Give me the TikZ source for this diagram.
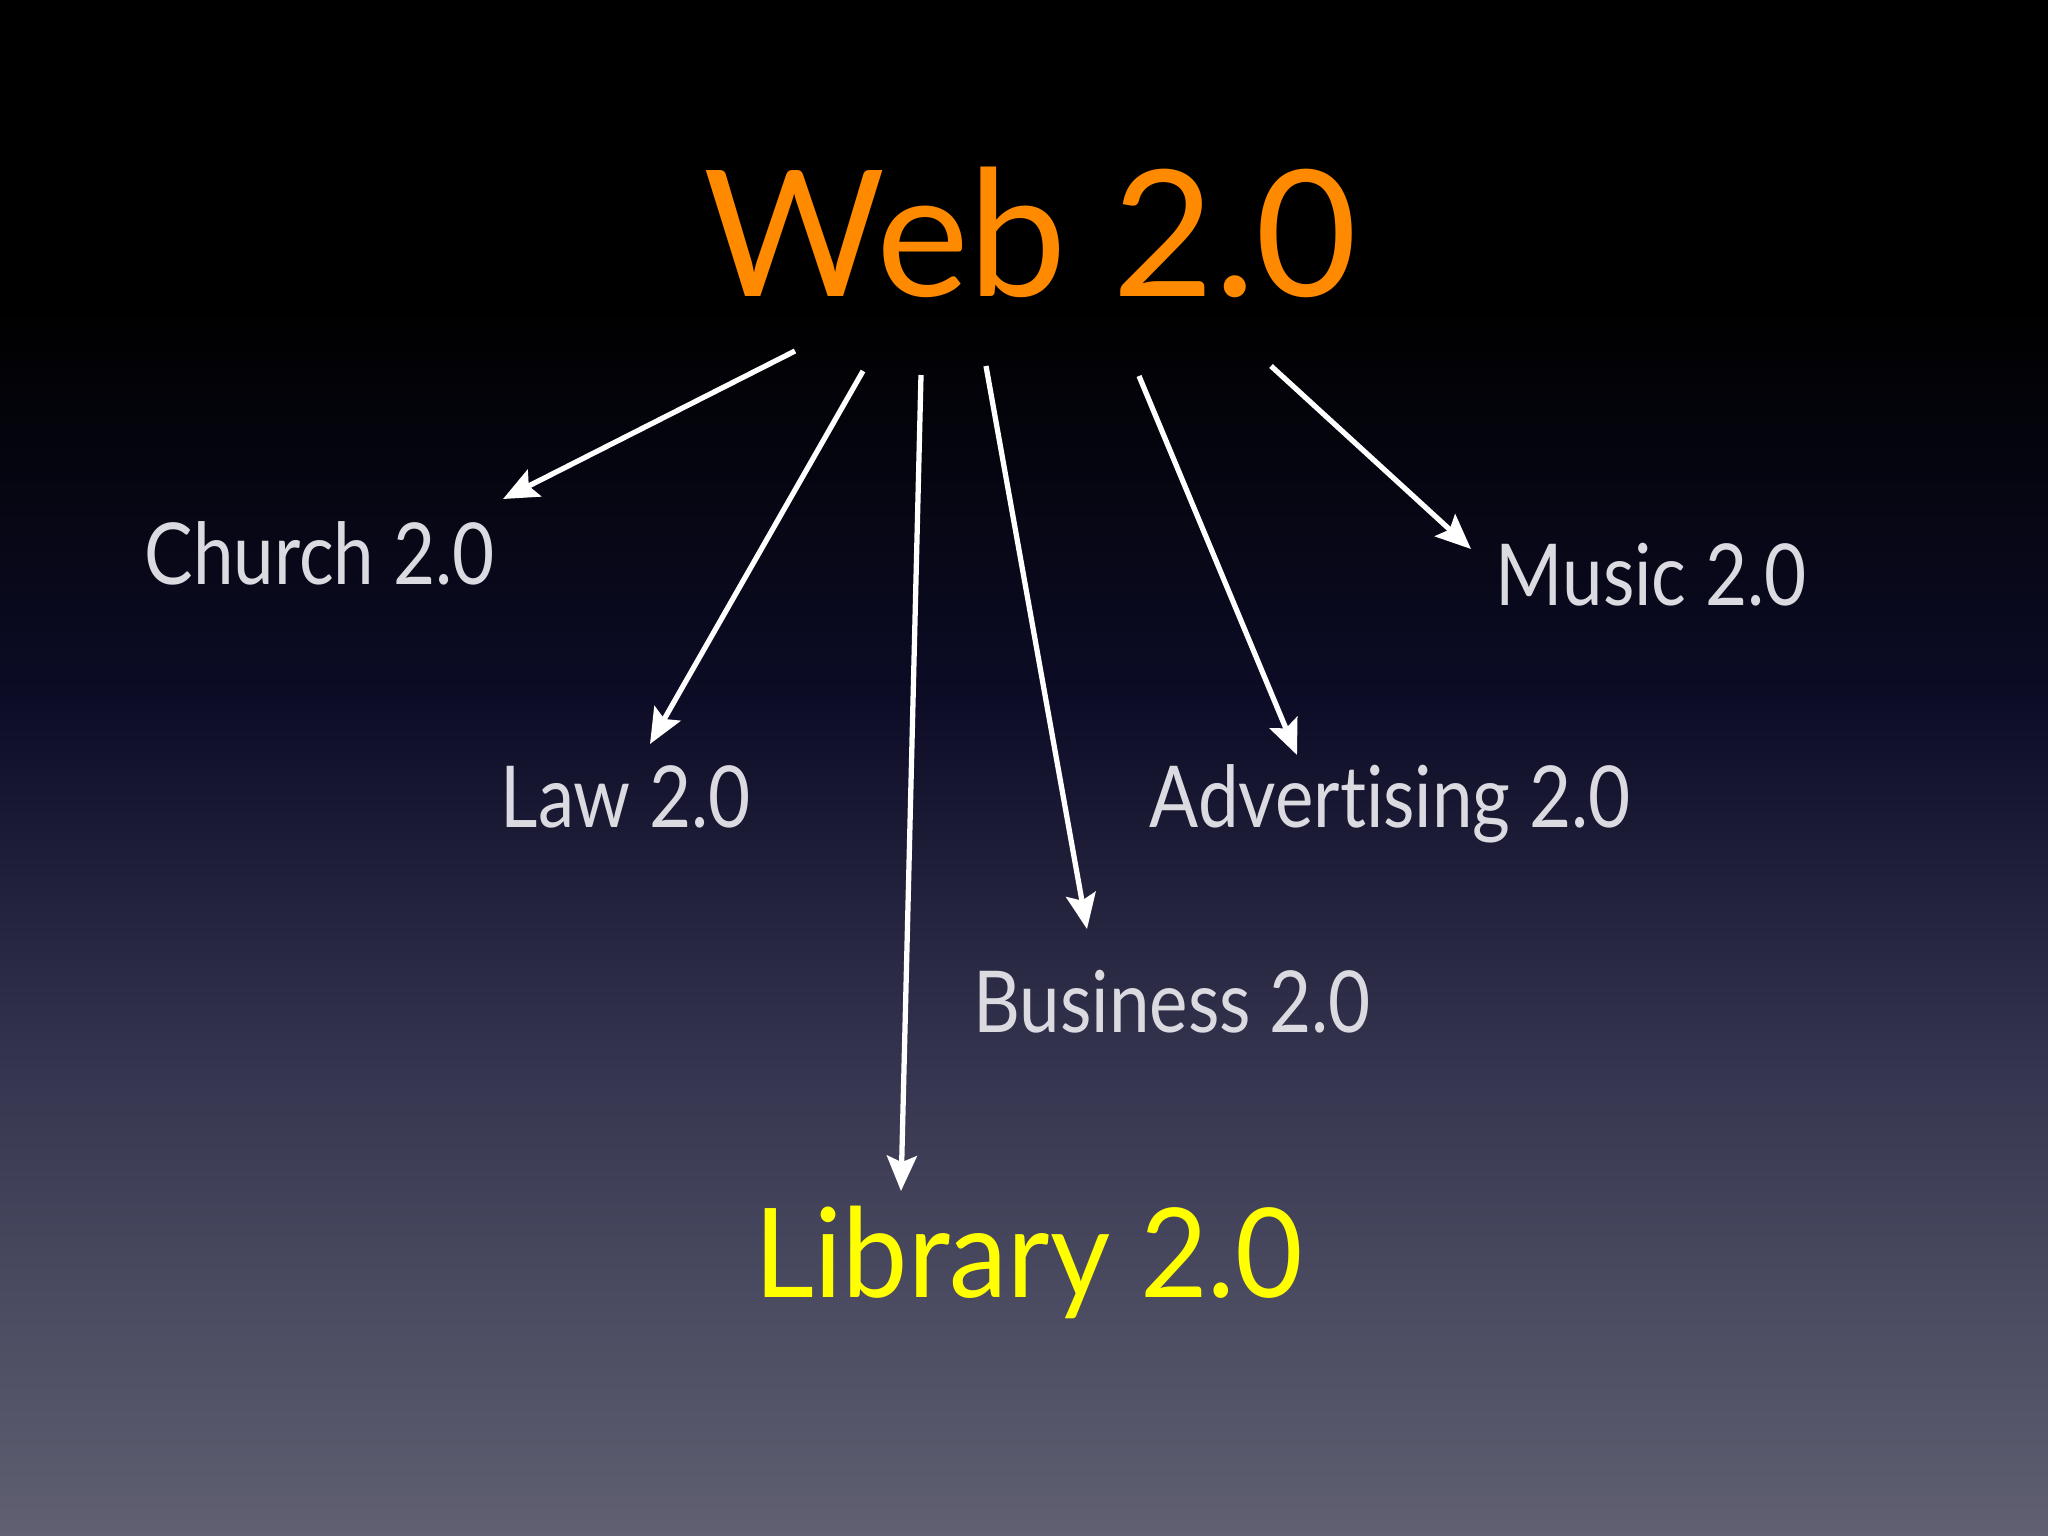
\documentclass[tikz,border=0pt]{standalone}
\usepackage{fontspec}
\setmainfont{Lato}
\newfontfamily\lblfont[FakeStretch=0.85, Ligatures=NoCommon]{Lato}
\newfontfamily\libfont[FakeStretch=0.94]{Lato}
\usetikzlibrary{arrows.meta}
\definecolor{webor}{HTML}{FF8A00}
\definecolor{libyel}{HTML}{FFFF00}
\definecolor{lblgrey}{HTML}{DADAE0}
\definecolor{bgA}{HTML}{000000}
\definecolor{bgB}{HTML}{0C0C26}
\definecolor{bgC}{HTML}{383852}
\definecolor{bgD}{HTML}{606072}
\tikzset{
  lbl/.style={anchor=base west, inner sep=0pt, text=lblgrey, font=\lblfont\fontsize{24.3}{28}\selectfont},
  conn/.style={draw=white, line width=1.5pt, -{Stealth[length=10pt, width=8.5pt, inset=1.8pt]}}
}
\begin{document}
\begin{tikzpicture}[x=0.01cm, y=-0.01cm]
\useasboundingbox (0,0) rectangle (2048,1536);
% background
\fill[bgA] (0,0) rectangle (2048,300);
\shade[top color=bgA, bottom color=bgB] (0,299) rectangle (2048,700);
\shade[top color=bgB, bottom color=bgC] (0,699) rectangle (2048,1100);
\shade[top color=bgC, bottom color=bgD] (0,1099) rectangle (2048,1536);
% nodes
\node[anchor=base west, inner sep=0pt, text=webor, font=\fontsize{50}{56}\selectfont] (web) at (703,296) {Web 2.0};
\node[lbl] (church) at (144,584) {Church 2.0};
\node[lbl] (music) at (1495,605) {Music 2.0};
\node[lbl] (law) at (500,827) {Law 2.0};
\node[lbl] (adv) at (1149,827) {Advertising 2.0};
\node[lbl] (bus) at (973,1032) {Business 2.0};
\node[anchor=base west, inner sep=0pt, text=libyel, font=\libfont\fontsize{35.3}{40}\selectfont] (lib) at (754,1297) {Library 2.0};
% connector ends
\coordinate (s1) at (795,351);  \coordinate (e1) at (503,499);
\coordinate (s2) at (863,371);  \coordinate (e2) at (650,744);
\coordinate (s3) at (921,375);  \coordinate (e3) at (901,1191);
\coordinate (s4) at (986,366);  \coordinate (e4) at (1087,929);
\coordinate (s5) at (1139,376); \coordinate (e5) at (1297,755);
\coordinate (s6) at (1271,366); \coordinate (e6) at (1471,549);
\draw[conn] (s1) -- (e1);
\draw[conn] (s2) -- (e2);
\draw[conn] (s3) -- (e3);
\draw[conn] (s4) -- (e4);
\draw[conn] (s5) -- (e5);
\draw[conn] (s6) -- (e6);
\end{tikzpicture}
\end{document}
